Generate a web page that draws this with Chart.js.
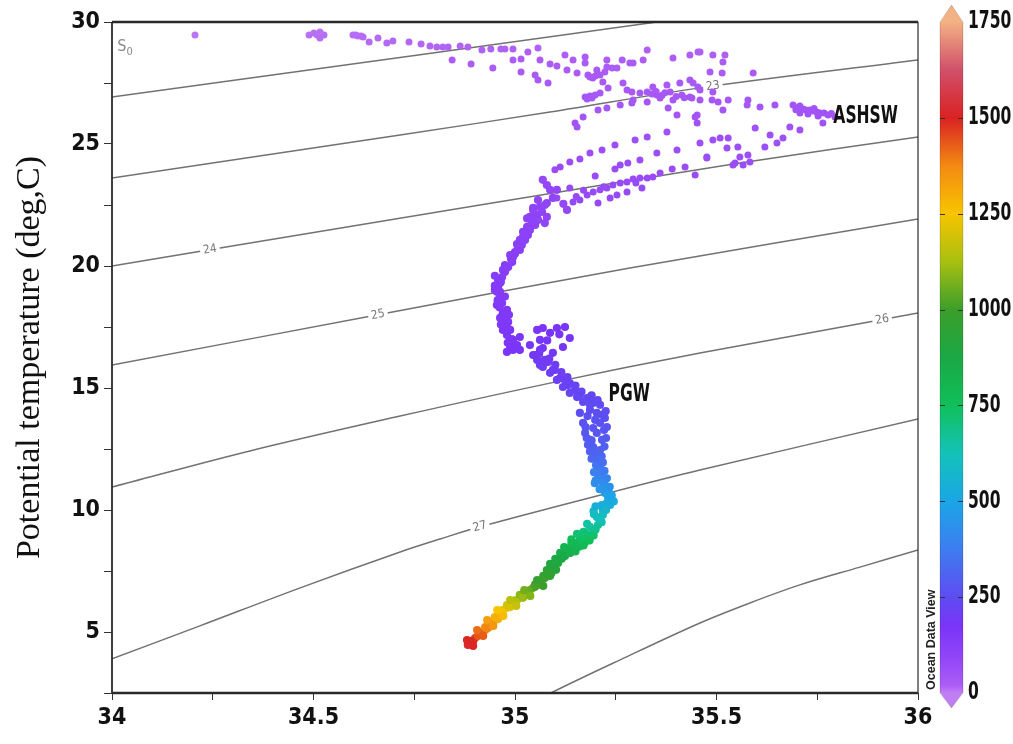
<!DOCTYPE html>
<html><head><meta charset="utf-8">
<script src="https://cdn.jsdelivr.net/npm/chart.js@4.4.0/dist/chart.umd.min.js"></script>
<style>html,body{margin:0;padding:0;background:#fff}#wrap{width:1013px;height:744px;position:relative}</style>
</head><body><div id="wrap"><canvas id="c" width="1013" height="744"></canvas></div>
<script>
// ---------- Profile data (salinity, potential temperature, depth) ----------
const surfaceSal = [34.206,34.489,34.501,34.509,34.516,34.526,34.516,34.598,34.605,34.610,34.618,34.623,34.638,34.660,34.682,34.697,34.737,34.767,34.789,34.806,34.821,34.834,34.844,34.864,34.883,34.891,34.918,34.945,34.940,34.965,34.975,34.995,34.995,35.015,35.015,35.032,35.057,35.062,35.050,35.057,35.082,35.087,35.104,35.124,35.129,35.144,35.154,35.174,35.174,35.181,35.203,35.228,35.228,35.241,35.266,35.253,35.285,35.293,35.318,35.328,35.392,35.434,35.454,35.459,35.491,35.521,35.516,35.484,35.514,35.591];
const surfaceTemp = [29.47,29.47,29.55,29.47,29.34,29.47,29.59,29.47,29.47,29.43,29.43,29.39,29.18,29.34,29.14,29.22,29.18,29.10,29.02,28.98,28.98,28.98,28.44,29.02,28.98,28.28,28.85,28.11,28.89,28.89,28.89,28.89,28.44,28.48,27.95,28.77,28.93,28.44,27.83,27.62,27.50,28.28,28.20,28.65,28.03,28.44,27.91,28.57,28.32,27.83,28.03,28.44,28.16,28.11,28.44,28.11,28.32,28.32,28.44,28.85,28.52,28.65,28.77,28.77,28.65,28.65,28.36,27.95,27.91,27.91];
const surfaceDepth = [5,8,8,9,9,9,8,10,10,10,11,11,12,12,13,13,14,14,15,15,15,16,20,15,16,22,17,24,17,17,17,18,20,20,26,18,17,21,27,28,29,22,23,19,25,21,26,20,22,27,25,21,23,24,21,24,22,22,21,18,20,19,18,18,19,19,22,26,26,26];

const mixedSal = [35.186,35.199,35.211,35.223,35.193,35.218,35.231,35.174,35.186,35.199,35.211,35.179,35.191,35.268,35.278,35.290,35.310,35.328,35.342,35.352,35.377,35.385,35.392,35.409,35.414,35.434,35.439,35.459,35.442,35.454,35.434,35.459,35.491,35.489,35.504,35.529,35.516,35.578,35.576,35.608,35.645,35.293,35.328,35.360,35.206,35.228,35.261,35.290,35.380,35.402,35.447,35.452,35.149,35.169,35.154,35.340,35.365,35.372,35.350,35.400,35.420];
const mixedTemp = [27.75,27.79,27.83,27.95,27.70,27.54,27.30,26.93,26.97,27.01,27.09,26.84,26.89,27.50,27.21,27.13,27.09,27.13,27.34,27.01,27.42,27.13,26.80,27.50,27.01,27.62,26.89,27.21,27.50,27.34,26.93,26.80,27.13,26.80,26.72,26.80,26.39,26.80,26.60,26.52,26.60,26.80,26.72,26.89,26.39,26.48,26.60,26.68,26.48,26.19,26.11,26.19,25.86,26.11,25.70,27.05,27.00,27.10,27.15,26.95,26.90];
const mixedDepth = [28,28,28,27,29,30,32,35,35,34,34,36,36,31,33,34,34,34,32,35,32,34,37,31,35,30,36,33,31,32,36,37,34,37,38,37,40,37,39,40,39,37,38,36,40,40,39,38,40,42,43,42,45,43,46,34,35,34,34,36,36];

const ashswSal = [35.690,35.700,35.707,35.715,35.722,35.732,35.739,35.749,35.757,35.767,35.777,35.707,35.727,35.752,35.764,35.794,35.697,35.742,35.785,35.682,35.707,35.596,35.633,35.650,35.665,35.620];
const ashswTemp = [26.60,26.48,26.56,26.43,26.39,26.39,26.35,26.31,26.27,26.27,26.19,26.27,26.23,26.15,25.86,26.11,26.40,26.45,26.25,25.70,25.57,25.66,25.37,25.04,25.25,24.88];
const ashswDepth = [45,46,45,46,47,47,48,48,49,49,50,49,50,51,53,51,47,46,50,55,56,55,58,60,58,62];

const subsurfSal = [35.459,35.491,35.509,35.529,35.526,35.553,35.558,35.578,35.583,35.546,35.566,35.476,35.447,35.452,35.377,35.328,35.298,35.248,35.216,35.186,35.161,35.136,35.112,35.099,35.402,35.352,35.310,35.280,35.261,35.248,35.476,35.541,35.390,35.422,35.199];
const subsurfTemp = [25.04,25.16,25.25,25.25,24.84,24.88,24.47,24.55,24.26,24.22,24.14,24.47,23.73,25.86,25.49,25.29,25.16,24.96,24.75,24.63,24.39,24.26,24.06,23.94,24.75,24.63,24.34,24.22,24.14,23.98,24.43,24.14,23.98,24.06,23.69];
const subsurfDepth = [60,59,58,58,62,62,65,64,67,67,68,65,72,53,56,58,59,61,63,64,66,67,69,70,63,64,66,67,68,69,65,68,69,68,72];

const bandSal = [35.278,35.293,35.310,35.328,35.342,35.360,35.261,35.243,35.228,35.211,35.194,35.179,35.161,35.144,35.136,35.206,35.236,35.253,35.278,35.315,35.104,35.129,35.079,35.057,35.074,35.120,35.152,35.170,35.220,35.300];
const bandTemp = [23.44,23.57,23.61,23.61,23.65,23.81,23.40,23.32,23.20,23.12,23.03,22.91,22.71,22.62,23.20,22.58,22.79,22.91,23.03,23.20,22.79,22.30,22.01,21.89,21.76,22.55,22.85,23.10,23.25,23.40];
const bandDepth = [75,74,74,74,73,72,76,77,78,79,80,81,83,84,78,84,82,81,80,78,82,87,90,92,93,85,82,79,77,76];

const upperSal = [35.069,35.079,35.087,35.104,35.094,35.079,35.062,35.045,35.037,35.030,35.020,35.007,34.995,34.983,34.968,34.958,35.037,35.012,34.993,34.975,35.025,35.050,35.055,35.045,35.000,
  34.963,34.950,34.963,34.955,34.980,34.963,34.983,34.970,34.988,35.000,34.980,34.975,35.000,34.988,35.017,35.012,35.032,35.042,35.055,35.067,35.074,35.057];
const upperTemp = [23.53,23.32,23.12,23.12,22.79,22.58,22.42,22.38,22.01,21.60,21.19,20.78,20.37,19.96,19.55,19.14,21.48,20.66,20.16,19.75,21.07,21.68,22.10,21.85,20.50,
  19.30,19.02,18.94,18.40,18.20,17.87,17.71,17.38,17.38,16.72,16.48,20.04,20.57,20.45,20.86,21.07,21.27,21.80,22.09,22.22,22.50,22.70];
const upperDepth = [85,88,90,90,93,96,98,99,103,108,113,118,123,128,133,138,110,120,125,130,114,107,102,105,121,
  136,139,141,147,149,153,155,159,159,168,170,127,122,123,117,115,112,106,103,101,97,95];

const midSal = [34.970,34.958,34.955,34.963,34.968,34.970,34.975,34.975,34.980,34.995,35.012,34.995,35.012,34.988,35.005,34.950,34.962,34.968,34.985,35.055,35.069,35.087,35.104,35.124,35.136,35.119,35.094,35.069,35.062,35.062,35.050,35.080,35.110];
const midTemp = [19.84,19.43,18.94,18.69,18.48,18.07,17.79,17.50,17.17,16.97,17.09,16.56,16.56,16.68,16.76,19.20,18.30,17.95,17.40,17.38,17.46,17.26,17.46,17.50,17.05,16.68,16.44,16.64,16.97,16.56,16.35,16.95,17.20];
const midDepth = [131,135,140,143,146,150,154,158,162,165,166,170,171,169,168,137,148,152,160,172,173,175,176,177,179,181,183,185,187,189,191,180,178];

const pgwSal = [35.055,35.069,35.087,35.104,35.119,35.136,35.154,35.179,35.194,35.203,35.211,35.203,35.194,35.206,35.161,35.169,35.174,35.181,35.099,35.124,35.149,35.186,35.216,35.075,35.200,35.190,35.215,
  35.186,35.221,35.194,35.223,35.199,35.186,35.211,35.169,35.161,35.132,35.136,35.112,35.094,35.082,35.062,35.074,35.045,35.037];
const pgwTemp = [16.15,15.86,15.62,15.33,15.04,14.80,14.63,14.59,14.39,13.98,13.57,13.16,12.58,12.17,13.98,13.57,13.16,12.67,15.74,15.33,14.92,14.10,12.87,16.05,12.40,12.85,12.20,
  12.87,13.28,13.36,13.77,13.69,14.31,14.31,14.43,14.72,15.12,15.20,15.41,15.74,16.07,15.94,16.15,16.35,16.76];
const pgwDepth = [195,200,205,212,220,228,235,240,245,255,265,275,295,315,255,265,278,290,207,213,225,250,285,197,305,288,318,
  290,272,270,260,262,247,248,243,233,218,217,210,206,199,201,197,192,188];

const deepSal = [35.211,35.211,35.223,35.223,35.228,35.236,35.218,35.203,35.186,35.161,35.186,35.129,35.149,35.174,35.112,35.094,35.079,35.062,35.045,35.030,35.012,34.995,34.980,34.963,34.950,34.938,34.926,34.913,34.901,34.888,34.883,35.205,35.215,35.200,35.232,35.215,35.195,35.215,35.200,35.170,35.140,35.160,35.100,35.120,35.070,35.090,35.050,35.020,35.000,34.985,34.970,34.955,34.945,34.930,34.895,
  34.896,34.908,34.926,34.933,34.950,34.958,34.970,34.980,34.988,35.005,35.012,35.020,35.037,35.050,35.055,35.074,35.082,35.087,35.107,35.116,35.124,35.136,35.144,35.154,35.166,35.176,35.194,35.198,35.206,35.211,35.218,35.226,35.236,35.241,35.231,35.226,35.218,35.216,35.206,35.206,35.201,35.211,35.196,35.211];
const deepTemp = [11.76,11.35,11.03,10.70,10.29,10.53,10.00,9.71,9.31,8.90,8.90,8.36,8.57,8.68,8.24,7.67,7.54,7.01,6.81,6.60,6.40,6.19,5.99,5.78,5.49,5.37,5.08,4.96,4.75,4.55,4.47,11.90,11.55,11.20,10.80,10.20,9.95,9.50,9.20,9.10,8.80,8.50,8.00,8.10,7.30,7.40,6.95,6.55,6.30,6.10,5.90,5.65,5.30,5.20,4.65,
  4.63,4.84,5.20,5.16,5.61,5.53,5.90,6.10,6.02,6.31,6.52,6.40,6.72,6.85,6.93,7.21,7.42,7.30,7.83,8.00,8.11,8.44,8.36,8.65,8.77,9.02,9.02,9.18,9.39,9.59,9.80,10.00,10.21,10.41,10.53,10.82,11.03,11.23,11.43,11.64,11.84,12.05,12.38,12.46];
const deepDepth = [350,390,430,470,520,500,560,610,660,730,720,820,790,760,840,910,930,990,1030,1070,1110,1160,1210,1260,1310,1340,1390,1420,1460,1500,1520,340,370,400,460,530,570,630,690,700,750,800,870,860,960,950,1000,1080,1140,1180,1230,1280,1350,1380,1480,
  1490,1440,1375,1380,1290,1300,1240,1190,1200,1140,1090,1110,1050,1020,1010,980,950,965,900,880,865,815,825,780,765,720,730,700,670,640,600,570,540,510,500,465,440,415,395,375,355,330,310,305];

const traceFillSal = [34.896,34.881,34.921,34.906,34.946,34.931,34.971,34.956,35.003,34.988,35.038,35.023,35.070,35.055,35.102,35.087,35.137,35.122,35.169,35.154,35.194,35.179,35.211,35.196,
  35.170,35.185,35.195,35.150,35.140,
  35.240,35.235,35.228,35.222,35.218,35.196,35.198,35.210,35.245,35.200,
  35.190,35.222,35.226,35.228,35.215,35.180,35.175,35.178,35.186,35.225,35.205,35.190,35.165,35.150,35.130,35.115,35.100,35.085,35.060,
  34.965,34.978,34.990,35.005,35.020,35.030,35.045,34.950,
  34.957,34.975,34.985,34.965,34.992,34.982];
const traceFillTemp = [4.43,4.67,4.84,5.08,5.25,5.49,5.66,5.90,6.07,6.31,6.48,6.72,6.89,7.13,7.55,7.79,8.24,8.48,8.78,9.02,9.19,9.43,9.59,9.83,
  8.55,8.75,8.95,8.30,8.65,
  10.60,10.95,11.30,11.60,11.95,11.55,11.10,10.85,10.35,10.15,
  12.10,12.60,12.95,13.40,13.90,13.85,13.40,12.95,12.40,14.05,14.50,14.70,14.85,15.10,15.45,15.65,15.95,16.20,16.40,
  19.35,19.90,20.30,20.90,21.40,21.95,22.30,19.60,
  18.60,18.75,18.00,17.60,17.00,16.85];
const traceFillDepth = [1505,1495,1430,1410,1350,1330,1270,1250,1170,1150,1080,1060,1000,980,920,900,830,810,740,720,670,650,620,600,
  780,760,730,820,790,
  490,440,400,370,340,380,420,450,520,540,
  320,300,285,270,258,258,268,282,300,252,243,238,232,224,214,208,202,196,193,
  135,128,124,116,110,104,100,133,
  144,142,151,156,164,166];

// ---------- Isopycnals (sigma-0) ----------
const sigma22Sal = [34.000,34.814,35.352,35.459];
const sigma22Temp = [26.93,28.77,30.00,30.25];
const sigma23Sal = [34.000,34.715,35.087,35.459,36.000];
const sigma23Temp = [23.61,25.37,26.31,27.30,28.44];
const sigma24Sal = [34.000,34.268,34.913,35.558,36.000];
const sigma24Temp = [20.00,20.74,22.50,24.22,25.29];
const sigma25Sal = [34.000,34.660,35.285,36.000];
const sigma25Temp = [15.94,18.00,19.92,21.93];
const sigma26Sal = [34.000,34.342,34.715,35.087,35.459,36.000];
const sigma26Temp = [10.94,12.42,13.85,15.20,16.43,18.07];
const sigma27Sal = [34.000,34.218,34.467,34.715,34.814,34.913,35.261,35.459,36.000];
const sigma27Temp = [3.90,5.25,6.81,8.28,8.81,9.31,10.82,11.64,13.73];
const sigma28Sal = [35.037,35.089,35.261,35.459,35.583,35.707,35.856,36.000];
const sigma28Temp = [2.01,2.50,3.86,5.37,6.19,6.93,7.66,8.36];

const contourLabelLevel = ['23','24','25','26','27'];
const contourLabelSal = [35.491,34.243,34.660,35.911,34.913];

// ---------- Axes / colour bar ----------
const xTicks = [34,34.25,34.5,34.75,35,35.25,35.5,35.75,36];
const xTickLabels = ['34','','34.5','','35','','35.5','','36'];
const yTicks = [2.5,5,7.5,10,12.5,15,17.5,20,22.5,25,27.5,30];
const yTickLabels = ['','5','','10','','15','','20','','25','','30'];
const cbTicks = [0,250,500,750,1000,1250,1500,1750];
const cbTickLabels = ['0','250','500','750','1000','1250','1500','1750'];
const cbStopValues = [0,20,90,175,250,375,500,625,750,875,1000,1125,1250,1375,1500,1625,1750];
const cbStopColors = ['#c07ef3','#ad5cf6','#9246f7','#7a34f8','#5e4cf2','#3d7df0','#1aa6e6','#14c2b8','#10c05a','#1aa845','#3c9e2a','#a8c010','#f8c400','#f38a12','#da2222','#d0506a','#f3b184'];

const waterMassNames = ['ASHSW','PGW'];
const waterMassSal = [35.79,35.232];
const waterMassTemp = [26.12,14.72];

// ---------- helpers ----------
function hexRgb(h){h=h.replace('#','');return [parseInt(h.slice(0,2),16),parseInt(h.slice(2,4),16),parseInt(h.slice(4,6),16)];}
function depthColor(d){
  const v=Math.max(cbStopValues[0],Math.min(cbStopValues[cbStopValues.length-1],d));
  for(let i=0;i<cbStopValues.length-1;i++){
    if(v<=cbStopValues[i+1]){
      const f=(v-cbStopValues[i])/(cbStopValues[i+1]-cbStopValues[i]);
      const a=hexRgb(cbStopColors[i]),b=hexRgb(cbStopColors[i+1]);
      return 'rgb('+a.map((c,k)=>Math.round(c+(b[k]-c)*f)).join(',')+')';
    }
  }
  return cbStopColors[cbStopColors.length-1];
}
const allSal=[].concat(surfaceSal,mixedSal,ashswSal,subsurfSal,bandSal,upperSal,midSal,pgwSal,deepSal,traceFillSal);
const allTemp=[].concat(surfaceTemp,mixedTemp,ashswTemp,subsurfTemp,bandTemp,upperTemp,midTemp,pgwTemp,deepTemp,traceFillTemp);
const allDepth=[].concat(surfaceDepth,mixedDepth,ashswDepth,subsurfDepth,bandDepth,upperDepth,midDepth,pgwDepth,deepDepth,traceFillDepth);
const profilePoints=allSal.map((s,i)=>({x:s,y:allTemp[i],d:allDepth[i]}));

const isoLines=[[sigma22Sal,sigma22Temp],[sigma23Sal,sigma23Temp],[sigma24Sal,sigma24Temp],[sigma25Sal,sigma25Temp],[sigma26Sal,sigma26Temp],[sigma27Sal,sigma27Temp],[sigma28Sal,sigma28Temp]];
const isoDatasets=isoLines.map(l=>({
  data:l[0].map((s,i)=>({x:s,y:l[1][i]})),
  showLine:true,borderColor:'#727272',borderWidth:1.5,pointRadius:0,tension:0.35,clip:0,fill:false
}));

const narrow="'DejaVu Sans Condensed','Liberation Sans Narrow',sans-serif";
const tickFont={family:narrow,size:23,weight:'bold'};

function interpLine(sal,temp,s){
  for(let i=0;i<sal.length-1;i++){ if(s>=sal[i]&&s<=sal[i+1]){const f=(s-sal[i])/(sal[i+1]-sal[i]);return temp[i]+f*(temp[i+1]-temp[i]);} }
  return temp[temp.length-1];
}
function drawNarrow(c,text,x,y,size,sx,align){
  c.save();c.translate(x,y);c.scale(sx,1);
  c.font='bold '+size+'px '+narrow;c.textAlign=align;c.textBaseline='middle';c.fillStyle='#111';
  c.fillText(text,0,0);c.restore();
}

const decorPlugin={
  id:'decor',
  beforeDatasetDraw(chart,args){
    if(args.index!==0) return;
    const c=chart.ctx,xs=chart.scales.x,ys=chart.scales.y;
    contourLabelLevel.forEach((lab,i)=>{
      const line=isoLines[Number(lab)-22];
      const s=contourLabelSal[i];
      const t=interpLine(line[0],line[1],s);
      const px=xs.getPixelForValue(s),py=ys.getPixelForValue(t);
      const p2x=xs.getPixelForValue(s+0.05),p2y=ys.getPixelForValue(interpLine(line[0],line[1],s+0.05));
      const ang=Math.atan2(p2y-py,p2x-px);
      c.save();c.translate(px,py);c.rotate(ang);
      c.font="12px 'DejaVu Sans Condensed',sans-serif";
      const w=c.measureText(lab).width;
      c.fillStyle='#fff';c.fillRect(-w/2-3,-5,w+6,10);
      c.fillStyle='#777';c.textAlign='center';c.textBaseline='middle';c.fillText(lab,0,0);
      c.restore();
    });
  },
  afterDatasetsDraw(chart){
    const c=chart.ctx,a=chart.chartArea,xs=chart.scales.x,ys=chart.scales.y,cb=chart.scales.cb;
    // frame
    c.save();c.strokeStyle='#2a2a2a';
    c.lineWidth=2.5;c.beginPath();c.moveTo(a.left,a.top);c.lineTo(a.right,a.top);c.stroke();
    c.beginPath();c.moveTo(a.left,a.bottom);c.lineTo(a.right,a.bottom);c.stroke();
    c.lineWidth=1.8;c.beginPath();c.moveTo(a.left,a.top);c.lineTo(a.left,a.bottom);c.stroke();
    c.lineWidth=1.2;c.beginPath();c.moveTo(a.right,a.top);c.lineTo(a.right,a.bottom);c.stroke();
    c.restore();
    // water mass labels
    waterMassNames.forEach((n,i)=>drawNarrow(c,n,xs.getPixelForValue(waterMassSal[i]),ys.getPixelForValue(waterMassTemp[i]),24,0.72,'left'));
    // S0 label
    c.save();c.fillStyle='#8a8a8a';c.textBaseline='alphabetic';c.textAlign='left';
    const sx=xs.getPixelForValue(34.013),sy=ys.getPixelForValue(28.8);
    c.font="16px 'DejaVu Sans Condensed',sans-serif";c.fillText('S',sx,sy);
    const sw=c.measureText('S').width;c.font="11px 'DejaVu Sans Condensed',sans-serif";c.fillText('0',sx+sw,sy+4);
    c.restore();
    // Ocean Data View
    c.save();c.translate(a.right+14,a.bottom-3);c.rotate(-Math.PI/2);
    c.font="bold 12.5px 'Liberation Sans',sans-serif";c.fillStyle='#222';c.textAlign='left';c.textBaseline='middle';
    c.fillText('Ocean Data View',0,0);c.restore();
    // colour bar
    const x0=a.right+22,w=23;
    const vmax=cbStopValues[cbStopValues.length-1];
    const yT=cb.getPixelForValue(vmax),yB=cb.getPixelForValue(cbStopValues[0]);
    const g=c.createLinearGradient(0,yB,0,yT);
    cbStopValues.forEach((v,i)=>g.addColorStop(v/vmax,cbStopColors[i]));
    c.save();
    c.fillStyle=g;c.fillRect(x0,yT,w,yB-yT);
    c.fillStyle=cbStopColors[cbStopColors.length-1];
    c.beginPath();c.moveTo(x0,yT+0.5);c.lineTo(x0+w,yT+0.5);c.lineTo(x0+w/2,yT-17);c.closePath();c.fill();
    c.fillStyle=cbStopColors[0];
    c.beginPath();c.moveTo(x0,yB-0.5);c.lineTo(x0+w,yB-0.5);c.lineTo(x0+w/2,yB+15);c.closePath();c.fill();
    c.strokeStyle='rgba(0,0,0,0.15)';c.lineWidth=1;
    c.beginPath();c.moveTo(x0+w/2,yT-17);c.lineTo(x0,yT);c.lineTo(x0,yB);c.lineTo(x0+w/2,yB+15);c.lineTo(x0+w,yB);c.lineTo(x0+w,yT);c.closePath();c.stroke();
    c.strokeStyle='#333';c.lineWidth=1;
    cbTicks.slice(1,-1).forEach(v=>{const y=Math.round(cb.getPixelForValue(v))+0.5;
      c.beginPath();c.moveTo(x0,y);c.lineTo(x0+5,y);c.moveTo(x0+w-5,y);c.lineTo(x0+w,y);c.stroke();});
    c.restore();
    // colour bar labels (narrow type, positioned by the cb scale)
    cbTicks.forEach((v,i)=>drawNarrow(c,cbTickLabels[i],a.right+50,cb.getPixelForValue(v),24,0.72,'left'));
  }
};

function noPadV(s,w){s.width=w;s.paddingTop=0;s.paddingBottom=0;}

new Chart(document.getElementById('c'),{
  type:'scatter',
  data:{datasets:[{
    data:profilePoints,
    backgroundColor:ctx=>depthColor(ctx.raw?ctx.raw.d:0),
    borderWidth:0,
    pointRadius:ctx=>(ctx.raw&&ctx.raw.d>=85)?4.1:3.5,
    pointHoverRadius:ctx=>(ctx.raw&&ctx.raw.d>=85)?4.1:3.5,
    pointStyle:'circle',clip:5
  }].concat(isoDatasets)},
  options:{
    responsive:false,animation:false,
    layout:{padding:{top:22,left:0,right:0,bottom:0}},
    plugins:{legend:{display:false},tooltip:{enabled:false}},
    scales:{
      x:{type:'linear',position:'bottom',min:34,max:36,
        afterBuildTicks:s=>{s.ticks=xTicks.map(v=>({value:v}));},
        afterFit:s=>{s.height=51;s.paddingLeft=0;s.paddingRight=0;},
        ticks:{autoSkip:false,maxRotation:0,padding:4,color:'#111',font:tickFont,
          callback:(v)=>{const i=xTicks.indexOf(v);return i>=0?xTickLabels[i]:'';}},
        grid:{drawOnChartArea:false,drawTicks:true,tickLength:7,color:'#333'},
        border:{display:false}},
      y:{type:'linear',position:'left',min:2.5,max:30,
        afterBuildTicks:s=>{s.ticks=yTicks.map(v=>({value:v}));},
        afterFit:s=>noPadV(s,112),
        ticks:{autoSkip:false,padding:4,color:'#111',font:tickFont,
          callback:(v)=>{const i=yTicks.indexOf(v);return i>=0?yTickLabels[i]:'';}},
        grid:{drawOnChartArea:false,drawTicks:true,tickLength:8,color:'#333'},
        border:{display:false},
        title:{display:true,text:'Potential temperature (deg,C)',color:'#111',
          font:{family:"'Liberation Serif','DejaVu Serif',serif",size:34},padding:{top:10,bottom:0}}},
      cb:{type:'linear',position:'right',min:0,max:1750,
        afterBuildTicks:s=>{s.ticks=cbTicks.map(v=>({value:v}));},
        afterFit:s=>noPadV(s,95),
        ticks:{display:false},
        grid:{display:false,drawTicks:false},border:{display:false}}
    }
  },
  plugins:[decorPlugin]
});
</script></body></html>
